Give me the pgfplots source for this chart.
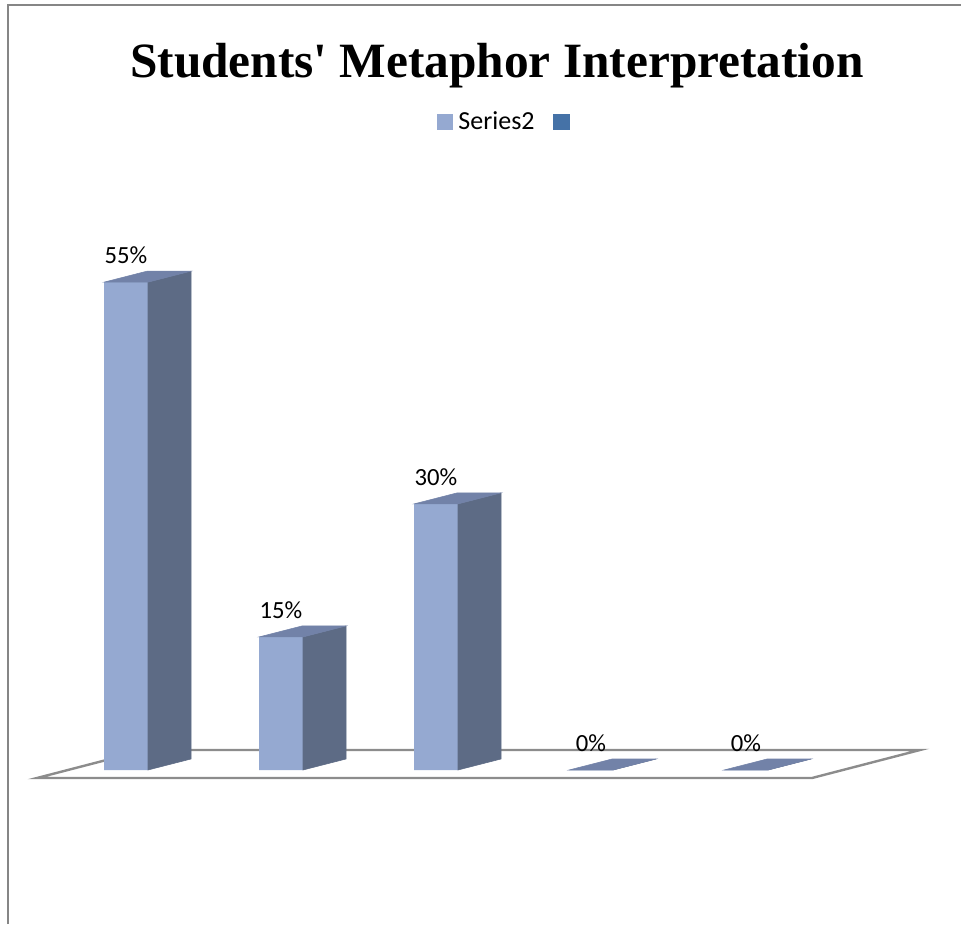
\documentclass[border=0pt]{standalone}
\usepackage{fontspec}
\setmainfont{Carlito}
\newfontfamily\titlefont{Liberation Serif}
\usepackage{pgfplots}
\pgfplotsset{compat=1.18}
\usepackage{pgfplotstable}
\definecolor{frontc}{HTML}{95A9D1}
\definecolor{sidec}{HTML}{5D6B85}
\definecolor{topc}{HTML}{7282A8}
\definecolor{legdark}{HTML}{4572A7}
\definecolor{floorc}{HTML}{8C8C8C}
\definecolor{borderc}{HTML}{868686}
\pgfdeclareplotmark{nothing}{}
\pgfplotstableread{
x v
126 55
281 15
436 30
591 0
746 0
}\bars
\begin{document}
\begin{tikzpicture}
\begin{axis}[name=ax, hide axis, x=0.75pt, y=6.6525pt,
  xmin=0, xmax=961, ymin=-17.362, ymax=86.810, clip=false,
  legend columns=-1,
  legend style={draw=none, fill=none, at={(axis cs:506,73.06)}, anchor=center,
    font=\fontsize{19.5}{23}\selectfont,
    /tikz/every even column/.append style={column sep=12pt}},
]
% floor
\addplot[draw=floorc, line width=1.8pt, fill=white, forget plot]
  coordinates {(37,-0.902) (812,-0.902) (920,2.255) (145,2.255)} --cycle;
% front faces
\addplot[ybar, bar width=33pt, fill=frontc, draw=none,
  legend image code/.code={\fill[frontc] (0pt,-5.8pt) rectangle (11.8pt,5.8pt); \path (14pt,0pt);},
  nodes near coords={\pgfmathprintnumber[assume math mode=true]{\pgfplotspointmeta}\%},
  every node near coord/.append style={font=\fontsize{18.5}{22}\selectfont, text=black, inner sep=0pt, anchor=south, yshift=13.5pt}]
  table[x=x, y=v] {\bars};
\addlegendentry{Series2}
% side and top faces
\addplot[forget plot, only marks, mark=nothing, scatter,
  visualization depends on={6.6525*\thisrow{v} \as \h},
  scatter/@pre marker code/.code={%
    \fill[sidec] (16.5pt,0pt) -- (48.75pt,8.25pt) -- (48.75pt,{\h*1pt+8.25pt}) -- (16.5pt,{\h*1pt}) -- cycle;
    \fill[topc] (-16.5pt,{\h*1pt}) -- (16.5pt,{\h*1pt}) -- (48.75pt,{\h*1pt+8.25pt}) -- (15.75pt,{\h*1pt+8.25pt}) -- cycle;
  },
  scatter/@post marker code/.code={}]
  table[x=x, y expr=0] {\bars};
\addlegendimage{legend image code/.code={\fill[legdark] (0pt,-5.8pt) rectangle (11.8pt,5.8pt);}}
\addlegendentry{}
% title
\node[anchor=base, font=\titlefont\bfseries\fontsize{37}{44}\selectfont] at (axis cs:497,78.02) {Students\textquotesingle{} Metaphor Interpretation};
% chart border
\draw[borderc, line width=1.5pt] (axis cs:8,-17.362) -- (axis cs:8,86.246) -- (axis cs:961,86.246);
\end{axis}
\pgfresetboundingbox
\useasboundingbox (ax.south west) rectangle (ax.north east);
\end{tikzpicture}
\end{document}
